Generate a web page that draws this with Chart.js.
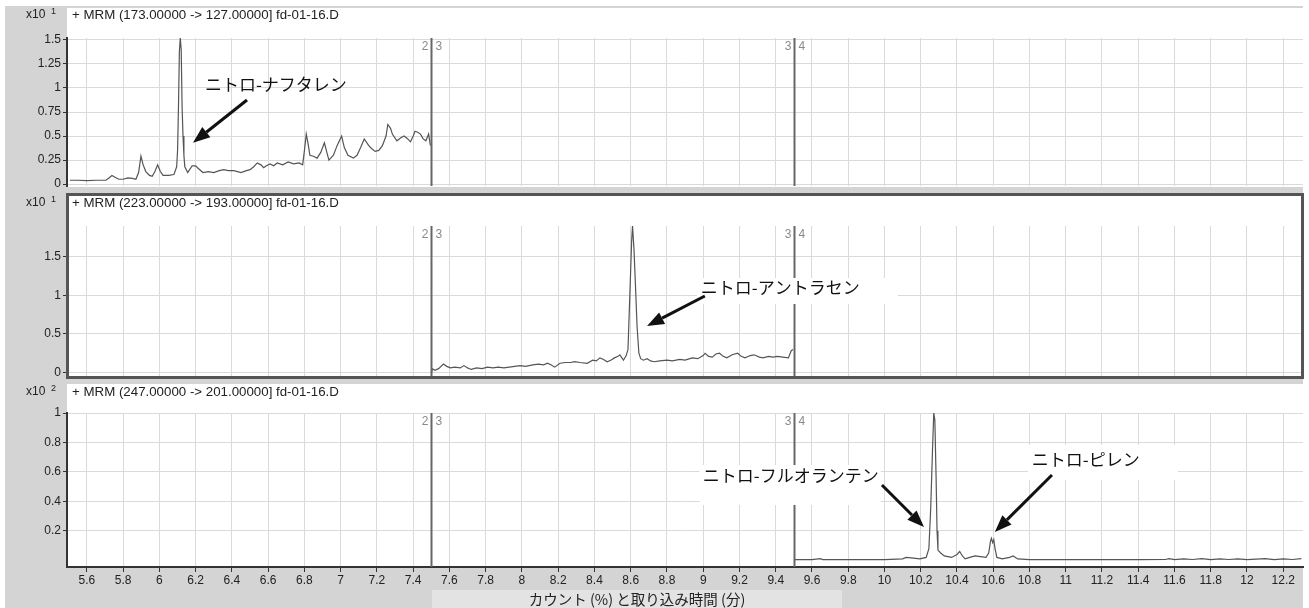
<!DOCTYPE html>
<html>
<head>
<meta charset="utf-8">
<script src="https://cdn.jsdelivr.net/npm/chart.js@4"></script>
<style>
  body { margin: 0; background: #fff; }
  #wrap { position: relative; width: 1309px; height: 608px; }
  canvas { position: absolute; left: 0; }
</style>
</head>
<body>
<div id="wrap">
  <canvas id="c1" width="1309" height="190" style="top:0px"></canvas>
  <canvas id="c2" width="1309" height="190" style="top:190px"></canvas>
  <canvas id="c3" width="1309" height="228" style="top:380px"></canvas>
</div>
<script>
// tempo de retenção (min) e contagens
const xTicks = [5.6, 5.8, 6, 6.2, 6.4, 6.6, 6.8, 7, 7.2, 7.4, 7.6, 7.8, 8, 8.2, 8.4, 8.6, 8.8, 9, 9.2, 9.4,
  9.6, 9.8, 10, 10.2, 10.4, 10.6, 10.8, 11, 11.2, 11.4, 11.6, 11.8, 12, 12.2];
const yTicks1 = [0, 0.25, 0.5, 0.75, 1, 1.25, 1.5];
const yTicks2 = [0, 0.5, 1, 1.5];
const yTicks3 = [0.2, 0.4, 0.6, 0.8, 1];

const titles = [
  '+ MRM (173.00000 -> 127.00000] fd-01-16.D',
  '+ MRM (223.00000 -> 193.00000] fd-01-16.D',
  '+ MRM (247.00000 -> 201.00000] fd-01-16.D'
];
const exponents = ['1', '1', '2'];
const segments = [[7.5, '2', '3'], [9.5, '3', '4']];
const xTitle = 'カウント (%) と取り込み時間 (分)';

const trace1 = [
  [5.506, 0.04], [5.55, 0.04], [5.6, 0.035], [5.65, 0.04], [5.705, 0.04], [5.72, 0.06], [5.738, 0.09], [5.755, 0.07],
  [5.776, 0.05], [5.8, 0.05], [5.826, 0.065], [5.85, 0.06], [5.87, 0.05], [5.885, 0.12], [5.898, 0.29], [5.91, 0.2],
  [5.925, 0.13], [5.945, 0.09], [5.96, 0.08], [5.975, 0.13], [5.99, 0.2], [6.005, 0.13], [6.02, 0.09], [6.05, 0.09],
  [6.08, 0.1], [6.095, 0.18], [6.1, 0.35], [6.105, 0.8], [6.11, 1.38], [6.115, 1.52], [6.12, 1.4], [6.125, 0.8],
  [6.13, 0.5], [6.135, 0.3], [6.14, 0.18], [6.156, 0.12], [6.17, 0.16], [6.18, 0.19], [6.2, 0.19], [6.21, 0.17],
  [6.24, 0.12], [6.27, 0.13], [6.3, 0.12], [6.33, 0.14], [6.355, 0.15], [6.38, 0.14], [6.41, 0.14], [6.45, 0.12],
  [6.48, 0.14], [6.5, 0.15], [6.52, 0.18], [6.54, 0.22], [6.56, 0.2], [6.575, 0.17], [6.59, 0.19], [6.61, 0.21],
  [6.63, 0.19], [6.65, 0.22], [6.68, 0.2], [6.71, 0.23], [6.74, 0.21], [6.77, 0.22], [6.79, 0.2], [6.8, 0.35],
  [6.81, 0.52], [6.82, 0.42], [6.83, 0.3], [6.85, 0.29], [6.87, 0.27], [6.89, 0.33], [6.91, 0.43], [6.925, 0.32],
  [6.935, 0.25], [6.95, 0.28], [6.96, 0.3], [6.98, 0.4], [7.005, 0.5], [7.02, 0.38], [7.04, 0.3], [7.07, 0.27],
  [7.09, 0.3], [7.11, 0.38], [7.13, 0.47], [7.155, 0.4], [7.17, 0.37], [7.19, 0.34], [7.21, 0.35], [7.23, 0.4],
  [7.25, 0.5], [7.26, 0.62], [7.275, 0.58], [7.285, 0.52], [7.31, 0.45], [7.33, 0.48], [7.35, 0.5], [7.37, 0.47],
  [7.385, 0.44], [7.4, 0.5], [7.41, 0.55], [7.425, 0.54], [7.44, 0.52], [7.455, 0.47], [7.47, 0.45], [7.485, 0.52],
  [7.495, 0.4]
];

const trace2 = [
  [7.502, 0.0], [7.505, 0.05], [7.52, 0.03], [7.54, 0.05], [7.567, 0.11], [7.585, 0.08], [7.605, 0.06], [7.63, 0.07],
  [7.66, 0.06], [7.68, 0.09], [7.7, 0.06], [7.72, 0.04], [7.75, 0.06], [7.78, 0.05], [7.81, 0.07], [7.84, 0.06],
  [7.87, 0.07], [7.9, 0.06], [7.93, 0.07], [7.96, 0.08], [7.99, 0.09], [8.02, 0.08], [8.06, 0.1], [8.09, 0.11],
  [8.12, 0.1], [8.14, 0.12], [8.16, 0.1], [8.18, 0.07], [8.21, 0.12], [8.24, 0.13], [8.27, 0.13], [8.29, 0.14],
  [8.32, 0.13], [8.36, 0.12], [8.39, 0.16], [8.41, 0.15], [8.43, 0.19], [8.45, 0.17], [8.47, 0.14], [8.49, 0.16],
  [8.51, 0.19], [8.53, 0.21], [8.54, 0.23], [8.56, 0.16], [8.575, 0.22], [8.585, 0.3], [8.595, 1.0], [8.605, 1.7],
  [8.61, 1.9], [8.618, 1.6], [8.625, 1.2], [8.635, 0.6], [8.645, 0.25], [8.655, 0.18], [8.67, 0.16], [8.69, 0.18],
  [8.71, 0.15], [8.73, 0.14], [8.76, 0.15], [8.8, 0.16], [8.83, 0.15], [8.87, 0.17], [8.9, 0.16], [8.94, 0.19],
  [8.97, 0.18], [9.0, 0.22], [9.01, 0.25], [9.03, 0.21], [9.05, 0.2], [9.07, 0.24], [9.09, 0.25], [9.11, 0.21],
  [9.13, 0.19], [9.16, 0.23], [9.19, 0.25], [9.21, 0.21], [9.23, 0.19], [9.26, 0.22], [9.28, 0.23], [9.31, 0.2],
  [9.33, 0.19], [9.36, 0.21], [9.385, 0.2], [9.41, 0.21], [9.44, 0.2], [9.47, 0.19], [9.485, 0.28], [9.495, 0.3]
];

const trace3 = [
  [9.5, 0.005], [9.6, 0.005], [9.645, 0.012], [9.66, 0.005], [9.8, 0.005], [10.0, 0.005], [10.1, 0.01], [10.12, 0.02],
  [10.16, 0.015], [10.195, 0.01], [10.23, 0.02], [10.245, 0.08], [10.255, 0.35], [10.265, 0.75], [10.272, 1.0],
  [10.278, 0.95], [10.285, 0.55], [10.29, 0.2], [10.295, 0.07], [10.31, 0.05], [10.33, 0.03], [10.37, 0.02],
  [10.4, 0.04], [10.415, 0.06], [10.43, 0.03], [10.445, 0.01], [10.47, 0.02], [10.5, 0.03], [10.53, 0.025],
  [10.56, 0.02], [10.575, 0.05], [10.585, 0.13], [10.59, 0.15], [10.597, 0.12], [10.603, 0.14], [10.61, 0.08],
  [10.62, 0.02], [10.65, 0.01], [10.69, 0.02], [10.71, 0.03], [10.735, 0.01], [10.8, 0.005], [11.0, 0.005],
  [11.2, 0.005], [11.4, 0.005], [11.55, 0.006], [11.57, 0.012], [11.6, 0.005], [11.65, 0.01], [11.7, 0.006],
  [11.75, 0.012], [11.8, 0.005], [11.85, 0.01], [11.9, 0.006], [11.95, 0.01], [12.0, 0.005], [12.05, 0.008],
  [12.1, 0.012], [12.15, 0.005], [12.2, 0.01], [12.25, 0.006], [12.3, 0.012]
];

// anotações: texto, posição do texto, cauda e ponta da seta, caixa branca (em unidades dos eixos)
const notes1 = [
  { text: 'ニトロ-ナフタレン', at: [6.251, 1.04], from: [6.483, 0.875], to: [6.185, 0.43], box: null }
];
const notes2 = [
  { text: 'ニトロ-アントラセン', at: [8.987, 1.096], from: [9.009, 0.992], to: [8.69, 0.603], box: [8.965, 1.226, 10.074, 0.889] }
];
const notes3 = [
  { text: 'ニトロ-フルオランテン', at: [8.998, 0.5725], from: [9.986, 0.511], to: [10.218, 0.226], box: [8.98, 0.647, 9.98, 0.376] },
  { text: 'ニトロ-ピレン', at: [10.813, 0.681], from: [10.924, 0.579], to: [10.609, 0.193], box: [10.791, 0.783, 11.619, 0.545] }
];

const FONT = '"Liberation Sans", Arial, sans-serif';
const JP = '"Noto Sans CJK JP", sans-serif';
const GRAY = '#d4d4d4';

function seta(c, x1, y1, x2, y2) {
  const a = Math.atan2(y2 - y1, x2 - x1);
  const L = 17, W = 6.5;
  const bx = x2 - L * Math.cos(a), by = y2 - L * Math.sin(a);
  c.strokeStyle = '#111';
  c.fillStyle = '#111';
  c.lineWidth = 3;
  c.beginPath();
  c.moveTo(x1, y1);
  c.lineTo(bx, by);
  c.stroke();
  c.beginPath();
  c.moveTo(x2, y2);
  c.lineTo(bx + W * Math.sin(a), by - W * Math.cos(a));
  c.lineTo(bx - W * Math.sin(a), by + W * Math.cos(a));
  c.closePath();
  c.fill();
}

const painel = {
  id: 'painel',
  beforeDraw(chart, args, o) {
    const c = chart.ctx, w = chart.width, h = chart.height;
    c.save();
    c.fillStyle = '#fff';
    c.fillRect(0, 0, w, h);
    c.fillStyle = GRAY;
    c.fillRect(5, o.grayTop, 1298, h - o.grayTop);
    c.fillStyle = '#fff';
    c.fillRect(67, o.white[0], 1236, o.white[1] - o.white[0]);
    if (o.axisTitle) {
      c.fillStyle = '#e3e3e3';
      c.fillRect(432, 210, 410, 18);
    }
    c.restore();
  },
  afterDatasetsDraw(chart, args, o) {
    const c = chart.ctx, xs = chart.scales.x, area = chart.chartArea;
    c.save();
    segments.forEach(([v, l, r]) => {
      const px = Math.round(xs.getPixelForValue(v)) + 0.5;
      c.strokeStyle = '#666';
      c.lineWidth = 2;
      c.beginPath();
      c.moveTo(px, area.top);
      c.lineTo(px, area.bottom);
      c.stroke();
      c.fillStyle = '#8a8a8a';
      c.font = '12px ' + FONT;
      c.textBaseline = 'middle';
      c.textAlign = 'right';
      c.fillText(l, px - 3, area.top + 9);
      c.textAlign = 'left';
      c.fillText(r, px + 4, area.top + 9);
    });
    c.restore();
  },
  afterDraw(chart, args, o) {
    const c = chart.ctx, xs = chart.scales.x, ys = chart.scales.y;
    c.save();
    // título do traço e expoente
    c.fillStyle = '#222';
    c.textBaseline = 'middle';
    c.textAlign = 'left';
    c.font = '13.3px ' + FONT;
    c.fillText(o.title, 72, o.titleY);
    c.font = '12px ' + FONT;
    c.fillText('x10', 26, o.titleY);
    c.font = '9px ' + FONT;
    c.fillText(o.exp, 51, o.titleY - 3);

    if (o.frame) {
      c.strokeStyle = '#555';
      c.lineWidth = 3;
      c.strokeRect(67.5, o.frame[0], 1235, o.frame[1] - o.frame[0]);
    }

    o.notes.forEach(n => {
      if (n.box) {
        const x1 = xs.getPixelForValue(n.box[0]), y1 = ys.getPixelForValue(n.box[1]);
        const x2 = xs.getPixelForValue(n.box[2]), y2 = ys.getPixelForValue(n.box[3]);
        c.fillStyle = '#fff';
        c.fillRect(x1, y1, x2 - x1, y2 - y1);
      }
      c.fillStyle = '#111';
      c.font = '17px ' + JP;
      c.textAlign = 'left';
      c.textBaseline = 'middle';
      c.fillText(n.text, xs.getPixelForValue(n.at[0]), ys.getPixelForValue(n.at[1]));
      seta(c, xs.getPixelForValue(n.from[0]), ys.getPixelForValue(n.from[1]),
        xs.getPixelForValue(n.to[0]), ys.getPixelForValue(n.to[1]));
    });

    if (o.axisTitle) {
      c.fillStyle = '#222';
      c.font = '14.5px ' + JP;
      c.textAlign = 'center';
      c.textBaseline = 'middle';
      c.fillText(o.axisTitle, 637, 219);
    }
    c.restore();
  }
};

function criarGrafico(id, trace, yMin, yMax, yTicks, showX, pad, opts) {
  return new Chart(document.getElementById(id), {
    type: 'line',
    data: {
      datasets: [{
        data: trace.map(p => ({ x: p[0], y: p[1] })),
        borderColor: '#555',
        borderWidth: 1.2,
        pointRadius: 0,
        tension: 0,
        fill: false
      }]
    },
    options: {
      responsive: false,
      animation: false,
      devicePixelRatio: 1,
      layout: { padding: { left: 0, right: 6, top: pad[0], bottom: pad[1] } },
      plugins: { legend: { display: false }, tooltip: { enabled: false }, painel: opts },
      scales: {
        x: {
          type: 'linear',
          min: 5.49,
          max: 12.309,
          afterBuildTicks: s => { s.ticks = xTicks.map(v => ({ value: v })); },
          afterFit: s => { s.height = showX ? 41 : 0; s.paddingLeft = 0; s.paddingRight = 0; },
          ticks: {
            display: showX,
            autoSkip: false,
            maxRotation: 0,
            padding: 1,
            color: '#222',
            font: { family: FONT, size: 12 },
            callback: v => String(v)
          },
          grid: { color: '#dadada', drawTicks: showX, tickLength: 5, tickColor: '#333' },
          border: { display: showX, color: '#333', width: 2 }
        },
        y: {
          type: 'linear',
          min: yMin,
          max: yMax,
          afterBuildTicks: s => { s.ticks = yTicks.map(v => ({ value: v })); },
          afterFit: s => { s.width = 67; s.paddingTop = 0; s.paddingBottom = 0; },
          ticks: {
            autoSkip: false,
            padding: 2,
            color: '#222',
            font: { family: FONT, size: 12 },
            callback: v => String(v)
          },
          grid: { color: '#dadada', tickLength: 4, tickColor: '#333' },
          border: { display: true, color: '#333', width: 2 }
        }
      }
    },
    plugins: [painel]
  });
}

criarGrafico('c1', trace1, -0.02, 1.52, yTicks1, false, [38, 4], {
  grayTop: 6, white: [8, 187], title: titles[0], exp: exponents[0], titleY: 15, notes: notes1
});
criarGrafico('c2', trace2, -0.045, 1.9, yTicks2, false, [36, 4], {
  grayTop: 0, white: [4, 188], title: titles[1], exp: exponents[1], titleY: 13, notes: notes2, frame: [4.5, 187.5]
});
criarGrafico('c3', trace3, -0.045, 1.0, yTicks3, true, [33, 0], {
  grayTop: 0, white: [4, 187], title: titles[2], exp: exponents[2], titleY: 12, notes: notes3, axisTitle: xTitle
});
</script>
</body>
</html>
